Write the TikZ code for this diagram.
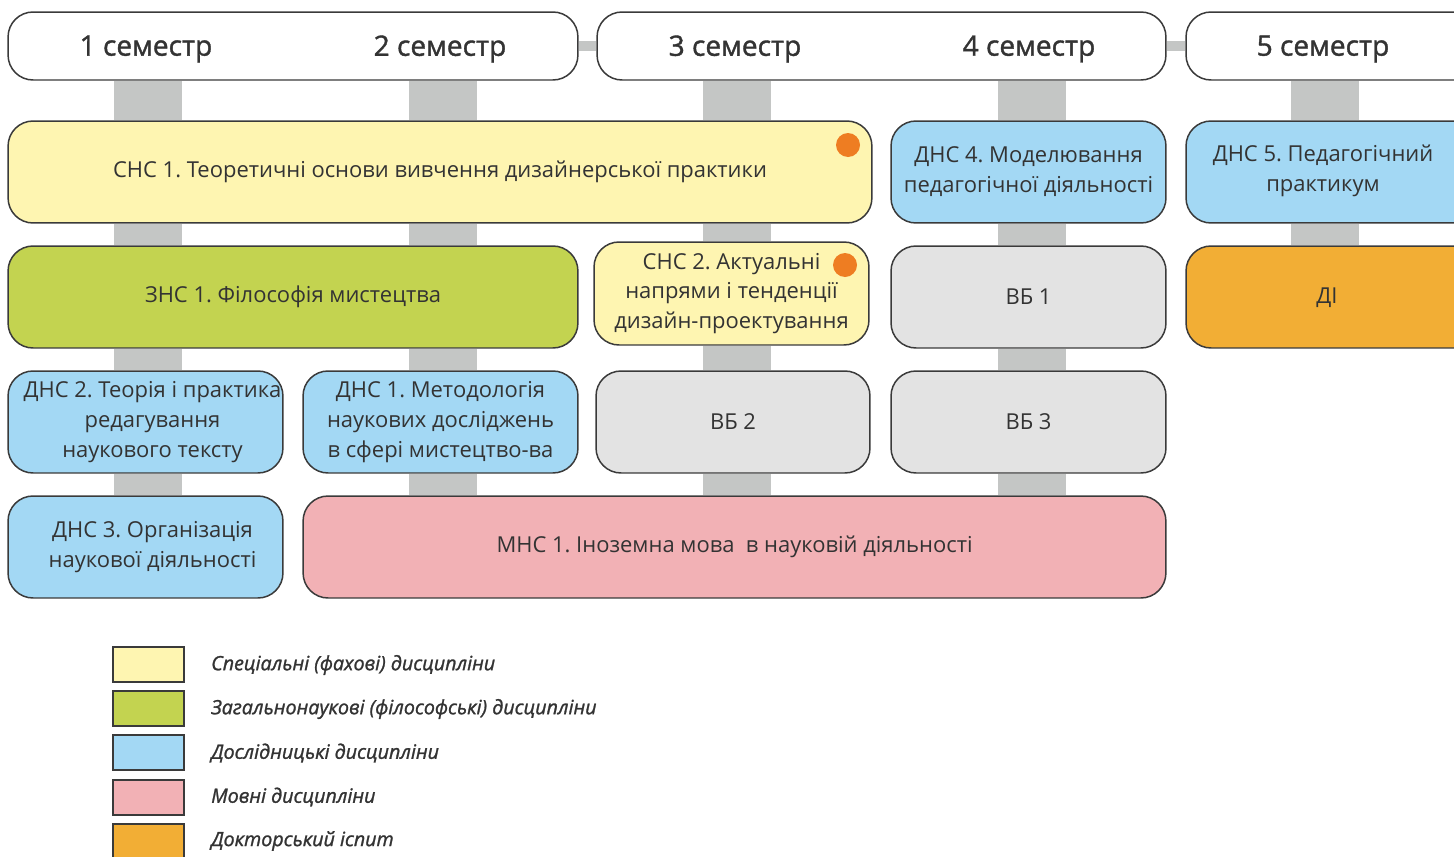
\documentclass[tikz,border=0pt]{standalone}
\usepackage{fontspec}
\setmainfont{Open Sans}
\newfontfamily\semib{Open Sans}[FakeBold=1.3]
\usetikzlibrary{backgrounds}
\frenchspacing
\definecolor{ink}{HTML}{333333}
\definecolor{edge}{HTML}{3A3A3A}
\definecolor{conn}{HTML}{C4C6C5}
\definecolor{cyel}{HTML}{FEF5B1}
\definecolor{cgrn}{HTML}{C3D350}
\definecolor{cblu}{HTML}{A3D8F4}
\definecolor{cgry}{HTML}{E3E3E3}
\definecolor{cpnk}{HTML}{F2B1B5}
\definecolor{corg}{HTML}{F2AE35}
\definecolor{cdot}{HTML}{EE7D22}
\newcommand{\pshift}{\hspace*{0.28cm}}
\tikzset{
  box/.style={draw=edge, line width=0.85pt, rounded corners=0.5cm, inner sep=0pt,
    align=center, text=ink, font=\fontsize{12.5}{17}\selectfont},
  hdr/.style={box, fill=white},
  hlabel/.style={text=ink, font=\semib\fontsize{16}{19}\selectfont},
  vconn/.style={draw=conn, line width=1.36cm},
  hconn/.style={draw=conn, line width=0.2cm},
  dot/.style={circle, fill=cdot, minimum size=0.48cm, inner sep=0pt},
  leg/.style={draw=edge, line width=0.6pt, minimum width=1.42cm, minimum height=0.7cm, inner sep=0pt},
  legtext/.style={anchor=west, text=ink, font=\semib\itshape\fontsize{11.2}{13}\selectfont}
}
\begin{document}
\begin{tikzpicture}[x=0.02cm, y=-0.02cm]
\useasboundingbox (0,0) rectangle (1454,856);
\clip (0,0) rectangle (1454,856);
% column coordinates
\coordinate (c1) at (148,0);
\coordinate (c2) at (443,0);
\coordinate (c3) at (737,0);
\coordinate (c4) at (1032,0);
\coordinate (c5) at (1325,0);
% headers
\node[hdr, minimum width=11.4cm, minimum height=1.36cm] (hA) at (293,46) {};
\node[hdr, minimum width=11.38cm, minimum height=1.36cm] (hB) at (881.5,46) {};
\node[hdr, minimum width=5.88cm, minimum height=1.36cm] (hC) at (1333,46) {};
\node[hlabel] (s1) at (146,49) {1 семестр};
\node[hlabel] (s2) at (440,49) {2 семестр};
\node[hlabel] (s3) at (735,49) {3 семестр};
\node[hlabel] (s4) at (1029,49) {4 семестр};
\node[hlabel] (s5) at (1323,49) {5 семестр};
% row 1
\node[box, fill=cyel, minimum width=17.28cm, minimum height=2.04cm] (snc1) at (440,172) {СНС 1. Теоретичні основи вивчення дизайнерської практики};
\node[box, fill=cblu, minimum width=5.5cm, minimum height=2.04cm] (dns4) at (1028.5,172) {ДНС 4. Моделювання\\педагогічної діяльності};
\node[box, fill=cblu, minimum width=5.88cm, minimum height=2.04cm] (dns5) at (1333,172) {};
\node[text=ink, align=center, font=\fontsize{12.5}{17}\selectfont] (dns5t) at (1323,171) {ДНС 5. Педагогічний\\практикум};
% row 2
\node[box, fill=cgrn, minimum width=11.4cm, minimum height=2.04cm] (zns1) at (293,297) {ЗНС 1. Філософія мистецтва};
\node[box, fill=cyel, minimum width=5.5cm, minimum height=2.06cm] (snc2) at (731.5,293.5) {СНС 2. Актуальні\\напрями і тенденції\\дизайн-проектування};
\node[box, fill=cgry, minimum width=5.5cm, minimum height=2.04cm] (vb1) at (1028.5,297) {ВБ 1};
\node[box, fill=corg, minimum width=5.88cm, minimum height=2.04cm] (di) at (1333,297) {};
\node[text=ink, font=\fontsize{12.5}{17}\selectfont] (dit) at (1327,298) {ДІ};
% row 3
\node[box, fill=cblu, minimum width=5.5cm, minimum height=2.04cm] (dns2) at (145.5,422) {\pshift ДНС 2. Теорія і практика\\\pshift редагування\\\pshift наукового тексту};
\node[box, fill=cblu, minimum width=5.5cm, minimum height=2.04cm] (dns1) at (440.5,422) {ДНС 1. Методологія\\наукових досліджень\\в сфері мистецтво-ва};
\node[box, fill=cgry, minimum width=5.48cm, minimum height=2.04cm] (vb2) at (733,422) {ВБ 2};
\node[box, fill=cgry, minimum width=5.5cm, minimum height=2.04cm] (vb3) at (1028.5,422) {ВБ 3};
% row 4
\node[box, fill=cblu, minimum width=5.5cm, minimum height=2.04cm] (dns3) at (145.5,547) {\pshift ДНС 3. Організація\\\pshift наукової діяльності};
\node[box, fill=cpnk, minimum width=17.26cm, minimum height=2.04cm] (mns1) at (734.5,547) {МНС 1. Іноземна мова \ в науковій діяльності};
% dots
\node[dot] (d1) at (848,145) {};
\node[dot] (d2) at (845,265) {};
% connectors
\begin{pgfonlayer}{background}
\draw[hconn] (hA.east) -- (hB.west);
\draw[hconn] (hB.east) -- (hC.west);
\draw[vconn] (hA.south -| c1) -- (snc1.north -| c1);
\draw[vconn] (hA.south -| c2) -- (snc1.north -| c2);
\draw[vconn] (hB.south -| c3) -- (snc1.north -| c3);
\draw[vconn] (hB.south -| c4) -- (dns4.north -| c4);
\draw[vconn] (hC.south -| c5) -- (dns5.north -| c5);
\draw[vconn] (snc1.south -| c1) -- (zns1.north -| c1);
\draw[vconn] (snc1.south -| c2) -- (zns1.north -| c2);
\draw[vconn] (snc1.south -| c3) -- (snc2.north -| c3);
\draw[vconn] (dns4.south -| c4) -- (vb1.north -| c4);
\draw[vconn] (dns5.south -| c5) -- (di.north -| c5);
\draw[vconn] (zns1.south -| c1) -- (dns2.north -| c1);
\draw[vconn] (zns1.south -| c2) -- (dns1.north -| c2);
\draw[vconn] (snc2.south -| c3) -- (vb2.north -| c3);
\draw[vconn] (vb1.south -| c4) -- (vb3.north -| c4);
\draw[vconn] (dns2.south -| c1) -- (dns3.north -| c1);
\draw[vconn] (dns1.south -| c2) -- (mns1.north -| c2);
\draw[vconn] (vb2.south -| c3) -- (mns1.north -| c3);
\draw[vconn] (vb3.south -| c4) -- (mns1.north -| c4);
\end{pgfonlayer}
% legend
\node[leg, fill=cyel] (l1) at (148.5,664.5) {};
\node[leg, fill=cgrn] (l2) at (148.5,708.5) {};
\node[leg, fill=cblu] (l3) at (148.5,752.5) {};
\node[leg, fill=cpnk] (l4) at (148.5,797.5) {};
\node[leg, fill=corg] (l5) at (148.5,841.5) {};
\node[legtext] (t1) at (205,665) {Спеціальні (фахові) дисципліни};
\node[legtext] (t2) at (205,709) {Загальнонаукові (філософські) дисципліни};
\node[legtext] (t3) at (205,753) {Дослідницькі дисципліни};
\node[legtext] (t4) at (205,797) {Мовні дисципліни};
\node[legtext] (t5) at (205,841) {Докторський іспит};
\end{tikzpicture}
\end{document}
